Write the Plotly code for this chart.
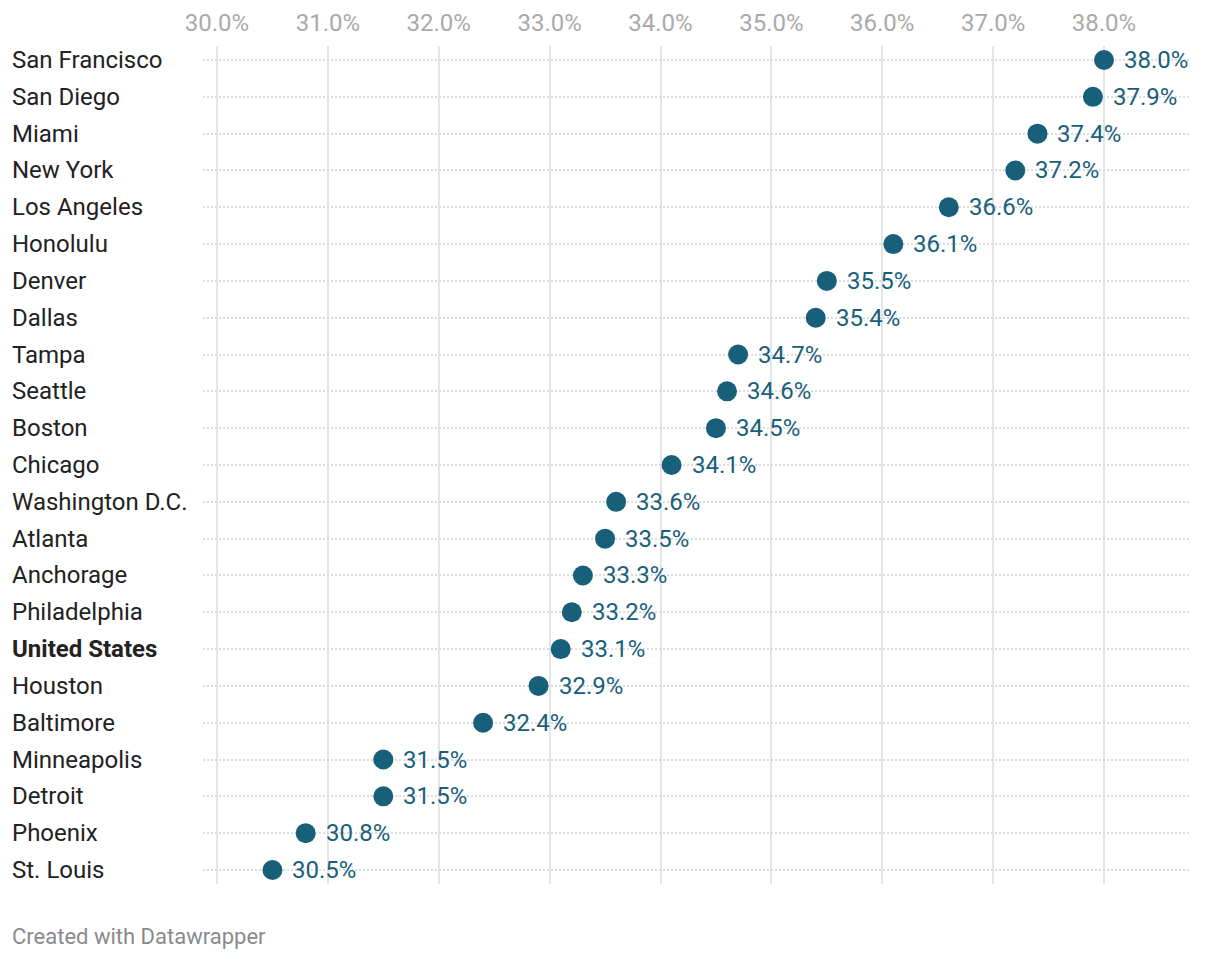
import plotly.graph_objects as go

cities = ["San Francisco", "San Diego", "Miami", "New York", "Los Angeles", "Honolulu",
          "Denver", "Dallas", "Tampa", "Seattle", "Boston", "Chicago", "Washington D.C.",
          "Atlanta", "Anchorage", "Philadelphia", "United States", "Houston", "Baltimore",
          "Minneapolis", "Detroit", "Phoenix", "St. Louis"]
values = [38.0, 37.9, 37.4, 37.2, 36.6, 36.1, 35.5, 35.4, 34.7, 34.6, 34.5, 34.1, 33.6,
          33.5, 33.3, 33.2, 33.1, 32.9, 32.4, 31.5, 31.5, 30.8, 30.5]
tick_vals = [30, 31, 32, 33, 34, 35, 36, 37, 38]
tick_text = ["30.0%", "31.0%", "32.0%", "33.0%", "34.0%", "35.0%", "36.0%", "37.0%", "38.0%"]

DOT = "#18607a"
FONT = "Roboto"
PLOT_W = 986
PLOT_H = 838
LEFT = 195
TOP = 38

fig = go.Figure()
fig.add_trace(go.Scatter(
    x=values, y=cities, mode="markers",
    marker=dict(size=20, color=DOT, line=dict(width=0)),
    hoverinfo="skip", cliponaxis=False,
))

annotations = []
for c, v in zip(cities, values):
    annotations.append(dict(
        xref="x", yref="y", x=v, y=c, text=f"{v:.1f}%",
        xanchor="left", yanchor="middle", showarrow=False, xshift=18, yshift=0,
        font=dict(family=FONT, size=24, color=DOT),
    ))
for c in cities:
    label = f"<b>{c}</b>" if c == "United States" else c
    annotations.append(dict(
        xref="paper", yref="y", x=(10 - 203) / PLOT_W, y=c, text=label,
        xanchor="left", yanchor="middle", showarrow=False,
        font=dict(family=FONT, size=24, color="#222222"),
    ))
annotations.append(dict(
    xref="paper", yref="paper", x=(10 - 203) / PLOT_W, y=-(937 - 884) / PLOT_H,
    text="Created with Datawrapper", xanchor="left", yanchor="middle", showarrow=False,
    font=dict(family=FONT, size=22, color="#8a8a8a"),
))

fig.update_layout(
    width=1220, height=960,
    margin=dict(l=LEFT, r=1220 - LEFT - PLOT_W, t=TOP, b=960 - TOP - PLOT_H),
    paper_bgcolor="white", plot_bgcolor="white",
    showlegend=False,
    font=dict(family=FONT),
    annotations=annotations,
    xaxis=dict(
        range=[30 - 14 / 110.875, 38 + 85 / 110.875],
        side="top", tickvals=tick_vals, ticktext=tick_text,
        tickfont=dict(family=FONT, size=24, color="#aaaaaa"),
        showgrid=True, gridcolor="#e5e5e5", gridwidth=2,
        zeroline=False, showline=False, ticks="", ticklabelstandoff=9,
        automargin=False, fixedrange=True,
    ),
    yaxis=dict(
        type="category", categoryorder="array", categoryarray=cities,
        range=[22.38, -0.38],
        showticklabels=False, showgrid=True, gridcolor="#dddddd", gridwidth=1.5,
        griddash="2px,2px", zeroline=False, showline=False, ticks="",
        automargin=False, fixedrange=True,
    ),
)

fig.write_html("out.html")
